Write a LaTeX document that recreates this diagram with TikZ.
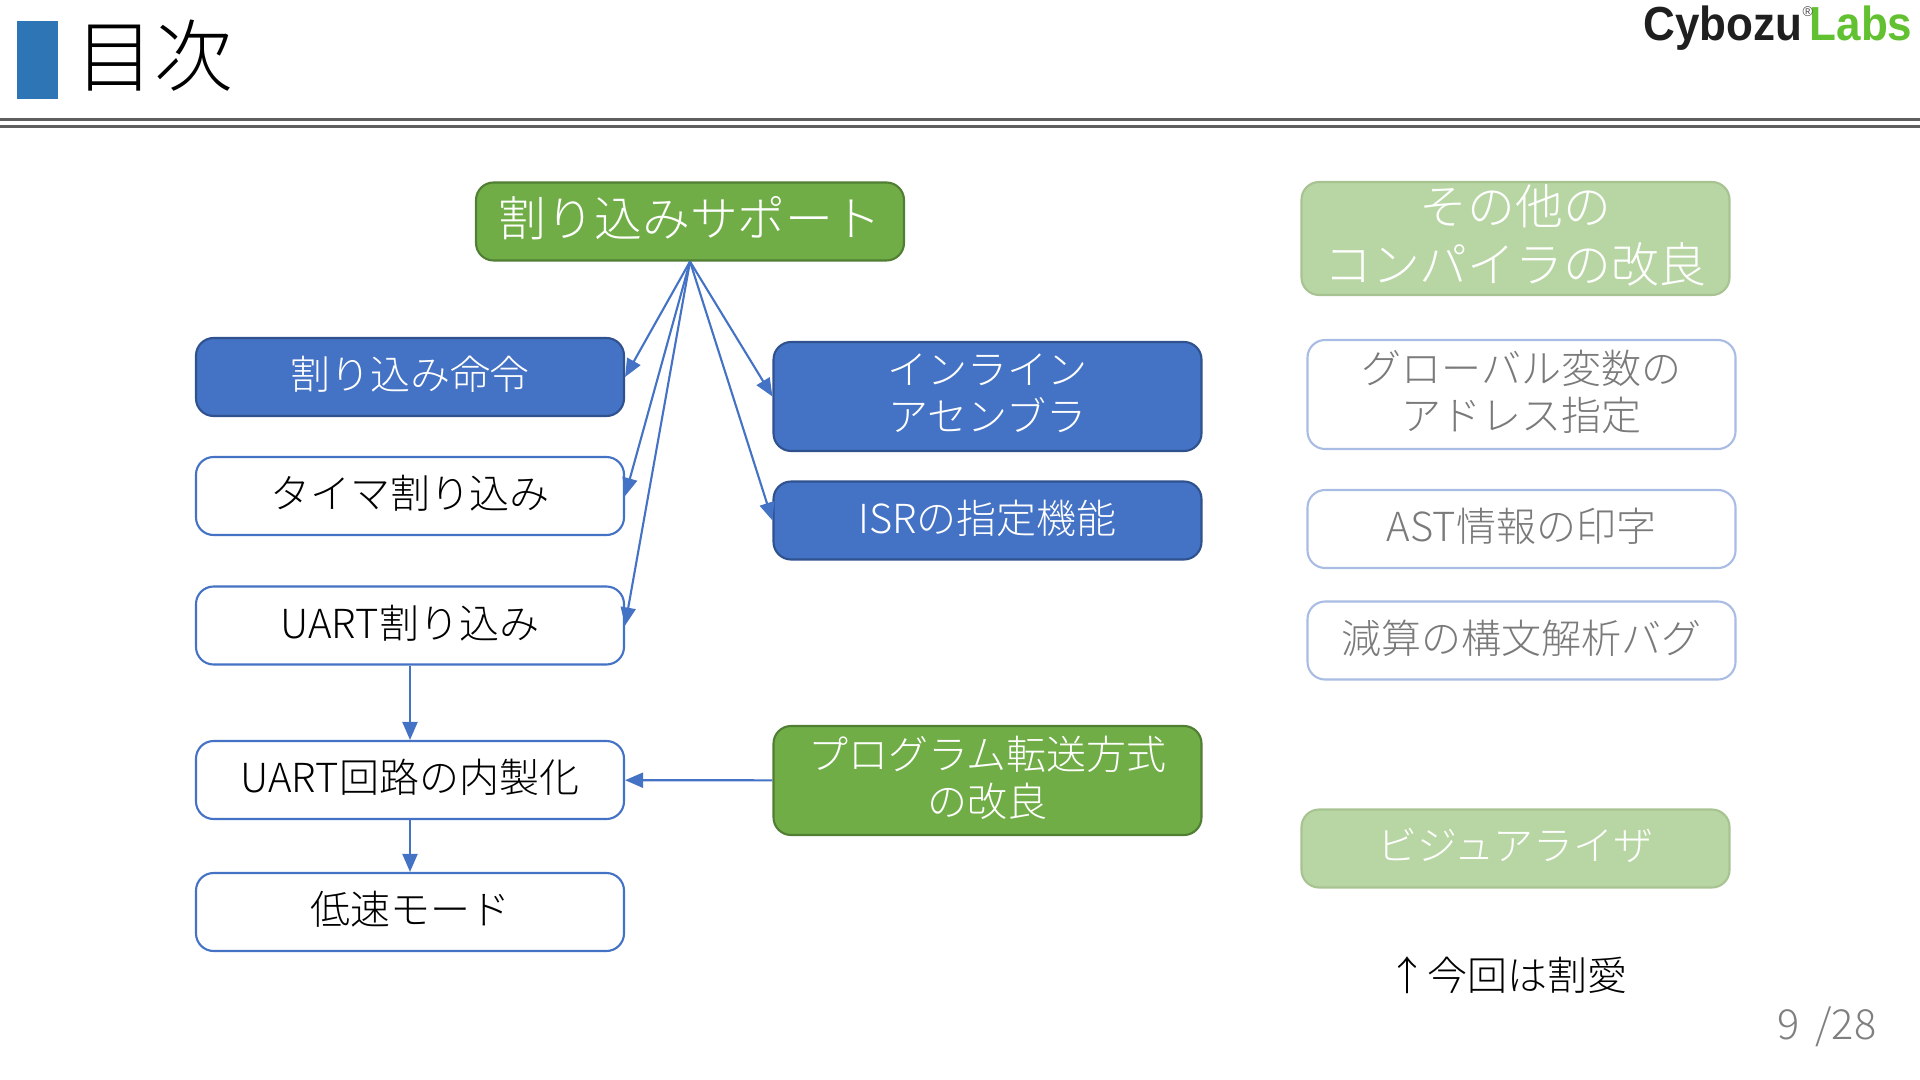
\documentclass[tikz,border=0pt]{standalone}
\usepackage{fontspec}
\setmainfont{Noto Sans CJK JP Light}
\newfontfamily\logofont{Liberation Sans}
\usetikzlibrary{arrows.meta, positioning}
\definecolor{titleblue}{HTML}{2E75B6}
\definecolor{rulegrey}{HTML}{5F5F5F}
\definecolor{boxblue}{HTML}{4472C4}
\definecolor{edgeblue}{HTML}{2F528F}
\definecolor{boxgreen}{HTML}{70AD47}
\definecolor{edgegreen}{HTML}{507E32}
\definecolor{fadegreen}{HTML}{B8D6A3}
\definecolor{fadeedge}{HTML}{A8C392}
\definecolor{fadeblue}{HTML}{A9BCE3}
\definecolor{fadetext}{HTML}{7A7A7A}
\definecolor{logogreen}{HTML}{62C130}
\definecolor{pagegrey}{HTML}{7F7F7F}
\tikzset{
  bluebox/.style={rectangle, draw=edgeblue, fill=boxblue, text=white, line width=0.6pt,
                  rounded corners=5pt, minimum width=4.28cm, minimum height=0.78cm,
                  inner sep=0, text depth=2.2pt, align=center, font=\fontsize{11.38}{13.4}\selectfont},
  whitebox/.style={rectangle, draw=boxblue, fill=white, text=black, line width=0.6pt,
                   rounded corners=5pt, minimum width=4.28cm, minimum height=0.78cm,
                   inner sep=0, text depth=2.2pt, align=center, font=\fontsize{11.38}{13.4}\selectfont},
  greenbox/.style={bluebox, draw=edgegreen, fill=boxgreen},
  fadebox/.style={bluebox, draw=fadeedge, fill=fadegreen},
  plainfade/.style={whitebox, draw=fadeblue, text=fadetext},
  tallbox/.style={minimum height=1.09cm},
  logotext/.style={anchor=base east, inner sep=0, transform shape, xscale=0.92,
                   font=\logofont\bfseries\fontsize{13.6}{14}\selectfont},
  flow/.style={->, line width=0.6pt, draw=boxblue, >={Triangle[length=1.8mm,width=1.5mm]}},
  rulebar/.style={draw=rulegrey, line width=0.9pt},
}
\begin{document}
\begin{tikzpicture}[x=1cm, y=1cm]
  \useasboundingbox (0,0) rectangle (19.2,-10.8);

  % --- Title bar ---
  \fill[titleblue] (0.17,-0.21) rectangle (0.58,-0.99);
  \node[anchor=west, inner sep=0, font=\fontsize{22.4}{24}\selectfont] (title) at (0.75,-0.56) {目次};
  \coordinate (ruleaL) at (0,-1.195);
  \coordinate (ruleaR) at (19.2,-1.195);
  \coordinate (rulebL) at (0,-1.265);
  \coordinate (rulebR) at (19.2,-1.265);
  \draw[rulebar] (ruleaL) -- (ruleaR);
  \draw[rulebar] (rulebL) -- (rulebR);

  % --- Logo ---
  \node[logotext, text=logogreen] (labs) at (19.13,-0.41) {Labs};
  \node[logotext, text=black!88] (cybozu) at (18.03,-0.41) {Cybozu};
  \node[anchor=west, inner sep=0, text=black!70, font=\logofont\fontsize{4}{4}\selectfont] (regmark) at (18.02,-0.12) {®};

  % --- Main tree ---
  \node[greenbox, text depth=2.9pt, font=\fontsize{13.6}{16}\selectfont] (intr) at (6.90,-2.215) {割り込みサポート};
  \node[bluebox]  (instr) at (4.10,-3.77) {割り込み命令};
  \node[whitebox] (timer) at (4.10,-4.96) {タイマ割り込み};
  \node[whitebox] (uart)  at (4.10,-6.255) {UART割り込み};
  \node[whitebox] (circ)  at (4.10,-7.80) {UART回路の内製化};
  \node[whitebox] (slow)  at (4.10,-9.12) {低速モード};
  \node[bluebox, tallbox] (inline) at (9.875,-3.965) {インライン\\アセンブラ};
  \node[bluebox]  (isr)   at (9.875,-5.205) {ISRの指定機能};
  \node[greenbox, tallbox] (prog) at (9.875,-7.805) {プログラム転送方式\\の改良};

  % --- Other items ---
  \node[fadebox, tallbox, minimum height=1.13cm, text depth=2.9pt, font=\fontsize{13.6}{16.4}\selectfont] (other) at (15.155,-2.385) {その他の\\コンパイラの改良};
  \node[plainfade, tallbox] (glob) at (15.215,-3.945) {グローバル変数の\\アドレス指定};
  \node[plainfade] (ast) at (15.215,-5.29) {AST情報の印字};
  \node[plainfade] (subbug) at (15.215,-6.405) {減算の構文解析バグ};
  \node[fadebox] (vis) at (15.155,-8.485) {ビジュアライザ};

  \node[inner sep=0, font=\fontsize{11.38}{13.4}\selectfont] (note) at (15.07,-9.75) {↑今回は割愛};
  \node[anchor=east, inner sep=0, text=pagegrey, font=\fontsize{11.8}{13}\selectfont] (page) at (18.77,-10.27) {9 \,/28};

  % --- Connectors ---
  \draw[flow] (intr.south) -- (instr.east);
  \draw[flow] (intr.south) -- (timer.east);
  \draw[flow] (intr.south) -- (uart.east);
  \draw[flow] (intr.south) -- (inline.west);
  \draw[flow] (intr.south) -- (isr.west);
  \draw[flow] (uart) -- (circ);
  \draw[flow] (circ) -- (slow);
  \draw[flow] (prog) -- (circ);
\end{tikzpicture}
\end{document}
